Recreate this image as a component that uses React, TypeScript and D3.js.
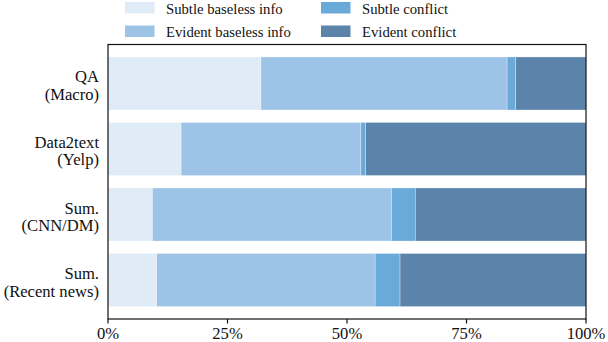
import React from "react";
import * as d3 from "d3";

const categories = [
  ["QA", "(Macro)"],
  ["Data2text", "(Yelp)"],
  ["Sum.", "(CNN/DM)"],
  ["Sum.", "(Recent news)"],
];
const seriesNames = [
  "Subtle baseless info",
  "Evident baseless info",
  "Subtle conflict",
  "Evident conflict",
];
const subtleBaseless = [32.0, 15.3, 9.3, 10.2];
const evidentBaseless = [51.5, 37.6, 50.0, 45.7];
const subtleConflict = [1.8, 1.0, 5.0, 5.2];
const evidentConflict = [14.7, 46.1, 35.7, 38.9];
const xTicks = [0, 25, 50, 75, 100];

const colors = ["#dfebf7", "#9dc3e6", "#6aaad9", "#5c83aa"];

const width = 608,
  height = 342;
const margin = { top: 44.5, right: 22, bottom: 23, left: 108 };
const font = "Liberation Serif, Times New Roman, Times, serif";

export default function App() {
  const innerW = width - margin.left - margin.right;
  const innerH = height - margin.top - margin.bottom;

  const keys = categories.map((c) => c.join(" "));
  const rows = keys.map((k, i) => ({
    key: k,
    s0: subtleBaseless[i],
    s1: evidentBaseless[i],
    s2: subtleConflict[i],
    s3: evidentConflict[i],
  }));
  const stack = d3.stack<any>().keys(["s0", "s1", "s2", "s3"])(rows);

  const x = d3.scaleLinear().domain([0, 100]).range([0, innerW]);
  const y = d3.scaleBand().domain(keys).range([0, innerH]).padding(0.19);

  const txt = { fontFamily: font, fill: "#111" };

  return (
    <svg
      width={width}
      height={height}
      style={{ position: "absolute", left: 0, top: 0, display: "block", fontFamily: font }}
    >
      {/* legend */}
      {seriesNames.map((name, i) => {
        const col = i === 0 || i === 1 ? 0 : 1;
        const row = i === 0 || i === 2 ? 0 : 1;
        const lx = col === 0 ? 125 : 321;
        const ly = row === 0 ? 2 : 25.5;
        return (
          <g key={name}>
            <rect x={lx} y={ly} width={29.5} height={11.5} fill={colors[i]} />
            <text x={lx + 41} y={ly + 11.5} fontSize={14.7} style={txt}>
              {name}
            </text>
          </g>
        );
      })}

      <g transform={`translate(${margin.left},${margin.top})`}>
        {stack.map((layer, li) =>
          layer.map((d, j) => (
            <rect
              key={`${li}-${j}`}
              x={x(d[0])}
              y={y(keys[j])}
              width={x(d[1]) - x(d[0])}
              height={y.bandwidth()}
              fill={colors[li]}
              stroke="#ffffff"
              strokeOpacity={0.5}
              strokeWidth={0.6}
            />
          ))
        )}

        {/* frame */}
        <rect
          x={0}
          y={0}
          width={innerW}
          height={innerH}
          fill="none"
          stroke="#111"
          strokeWidth={1.2}
        />

        {/* x axis */}
        {xTicks.map((t) => (
          <g key={t} transform={`translate(${x(t)},${innerH})`}>
            <line y1={0} y2={4.5} stroke="#111" strokeWidth={1.2} />
            <text y={20} textAnchor="middle" fontSize={16.6} style={txt}>
              {`${t}%`}
            </text>
          </g>
        ))}

        {/* y labels */}
        {categories.map((c, j) => {
          const cy = (y(keys[j]) as number) + y.bandwidth() / 2;
          return (
            <text
              key={keys[j]}
              x={-9}
              y={cy}
              textAnchor="end"
              fontSize={16.6}
              style={txt}
            >
              <tspan x={-9} dy={-1}>
                {c[0]}
              </tspan>
              <tspan x={-9} dy={17.5}>
                {c[1]}
              </tspan>
            </text>
          );
        })}
      </g>
    </svg>
  );
}
